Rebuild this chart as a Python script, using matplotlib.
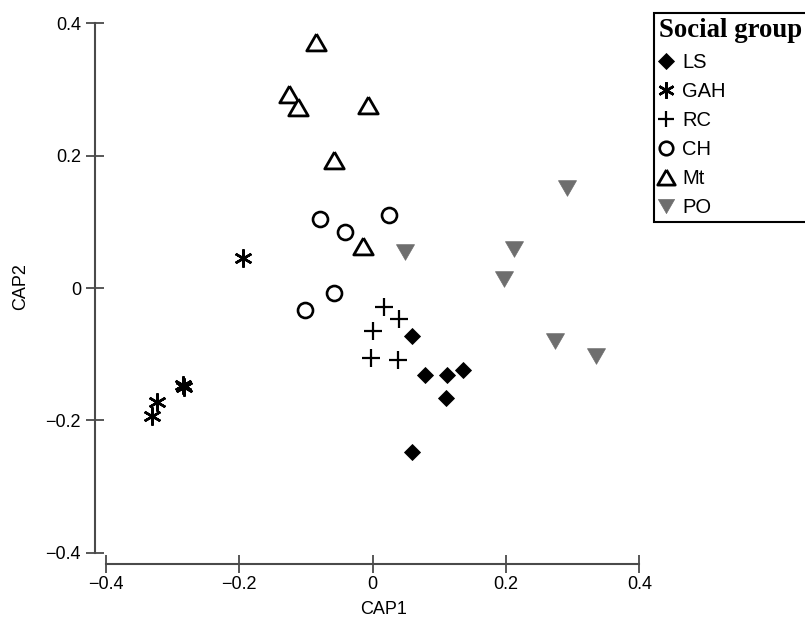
import matplotlib
matplotlib.use("Agg")
import matplotlib.pyplot as plt
from matplotlib.font_manager import FontProperties

plt.rcParams['font.family'] = ['Liberation Sans', 'DejaVu Sans']

# CAP scores per social group
ls_x = [0.059, 0.078, 0.111, 0.136, 0.110, 0.059]
ls_y = [-0.072, -0.132, -0.132, -0.124, -0.166, -0.247]

gah_x = [-0.194, -0.284, -0.282, -0.323, -0.330]
gah_y = [0.045, -0.147, -0.150, -0.172, -0.193]

rc_x = [0.017, 0.040, 0.000, -0.002, 0.038]
rc_y = [-0.028, -0.047, -0.065, -0.106, -0.108]

ch_x = [-0.079, -0.042, 0.025, -0.058, -0.101]
ch_y = [0.105, 0.084, 0.111, -0.007, -0.033]

mt_x = [-0.084, -0.125, -0.112, -0.007, -0.058, -0.014]
mt_y = [0.371, 0.293, 0.273, 0.276, 0.194, 0.064]

po_x = [0.291, 0.049, 0.212, 0.197, 0.274, 0.335]
po_y = [0.151, 0.054, 0.059, 0.013, -0.080, -0.102]

ticks = [-0.4, -0.2, 0, 0.2, 0.4]
tick_labels = ['\u22120.4', '\u22120.2', '0', '0.2', '0.4']

# equilateral triangles (matplotlib's ^ and v are too tall)
tri_up = [(0, 0.433), (-0.5, -0.433), (0.5, -0.433), (0, 0.433)]
tri_down = [(0, -0.433), (-0.5, 0.433), (0.5, 0.433), (0, -0.433)]

fig = plt.figure(figsize=(8.05, 6.22), dpi=100)
ax = fig.add_axes([0.118, 0.0932, 0.7177, 0.8907])

ax.plot(ls_x, ls_y, ls='none', marker='D', ms=8.6, mfc='black', mec='black', mew=0.6, label='LS')
ax.plot(gah_x, gah_y, ls='none', marker=(6, 2, 0), ms=13, color='black', mew=1.8, label='GAH')
ax.plot(rc_x, rc_y, ls='none', marker='+', ms=12.5, color='black', mew=1.6, label='RC')
ax.plot(ch_x, ch_y, ls='none', marker='o', ms=10.8, mfc='white', mec='black', mew=1.9, label='CH')
ax.plot(mt_x, mt_y, ls='none', marker=tri_up, ms=14, mfc='white', mec='black', mew=2.0, label='Mt')
ax.plot(po_x, po_y, ls='none', marker=tri_down, ms=13, mfc='#6e6e6e', mec='#6e6e6e', mew=0.5, label='PO')

ax.set_xlim(-0.416, 0.45)
ax.set_ylim(-0.417, 0.42)

for s in ['top', 'right']:
    ax.spines[s].set_visible(False)
for s in ['left', 'bottom']:
    ax.spines[s].set_bounds(-0.4, 0.4)
    ax.spines[s].set_color('#4a4a4a')
    ax.spines[s].set_linewidth(1.5)

ax.set_xticks(ticks)
ax.set_xticklabels(tick_labels)
ax.set_yticks(ticks)
ax.set_yticklabels(tick_labels)
ax.tick_params(direction='inout', length=13, width=1.3, color='#4a4a4a', labelsize=13)
ax.tick_params(axis='y', pad=3.5)
ax.tick_params(axis='x', pad=2)

ax.set_xlabel('CAP1', fontsize=13, labelpad=6)
ax.set_ylabel('CAP2', fontsize=13, labelpad=12)

leg = ax.legend(loc='upper left', bbox_to_anchor=(654 / 805, 1 - 12.7 / 622),
                bbox_transform=fig.transFigure, borderaxespad=0,
                title='Social group', alignment='left',
                title_fontproperties=FontProperties(family='Liberation Serif', weight='bold', size=19.3),
                fontsize=14.5, frameon=True, fancybox=False, framealpha=1,
                edgecolor='black', borderpad=0.25, handlelength=0.7,
                handletextpad=0.45, labelspacing=0.5, markerscale=0.9)
leg.get_frame().set_linewidth(1.5)

fig.savefig('out.png', dpi=100)
